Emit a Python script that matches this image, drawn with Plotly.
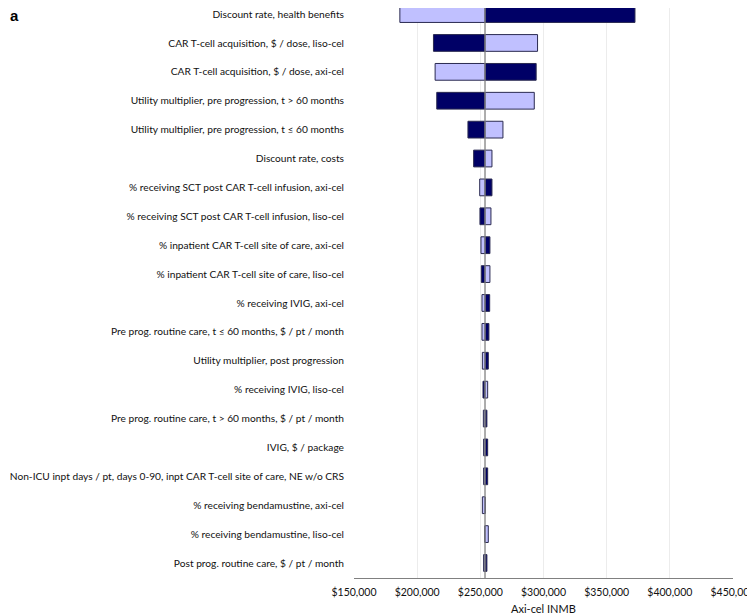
import plotly.graph_objects as go

# Tornado diagram: one-way sensitivity of axi-cel INMB
base_inmb = 253700

parameters = [
    "Discount rate, health benefits",
    "CAR T-cell acquisition, $ / dose, liso-cel",
    "CAR T-cell acquisition, $ / dose, axi-cel",
    "Utility multiplier, pre progression, t > 60 months",
    "Utility multiplier, pre progression, t ≤ 60 months",
    "Discount rate, costs",
    "% receiving SCT post CAR T-cell infusion, axi-cel",
    "% receiving SCT post CAR T-cell infusion, liso-cel",
    "% inpatient CAR T-cell site of care, axi-cel",
    "% inpatient CAR T-cell site of care, liso-cel",
    "% receiving IVIG, axi-cel",
    "Pre prog. routine care, t ≤ 60 months, $ / pt / month",
    "Utility multiplier, post progression",
    "% receiving IVIG, liso-cel",
    "Pre prog. routine care, t > 60 months, $ / pt / month",
    "IVIG, $ / package",
    "Non-ICU inpt days / pt, days 0-90, inpt CAR T-cell site of care, NE w/o CRS",
    "% receiving bendamustine, axi-cel",
    "% receiving bendamustine, liso-cel",
    "Post prog. routine care, $ / pt / month",
]

# INMB at each end of the parameter range (dark / light bars)
dark_inmb = [372400, 212900, 294200, 215500, 240200, 244700, 259200, 249700,
             257600, 250800, 257400, 256800, 256300, 252100, 255200, 255800,
             255800, 253700, 253700, 255200]
light_inmb = [186300, 295300, 214200, 292700, 267900, 259200, 249500, 258400,
              250500, 257600, 251300, 251300, 251600, 255800, 252400, 252600,
              252600, 251600, 256300, 252600]

x_ticks = [150000, 200000, 250000, 300000, 350000, 400000, 450000]

FONT = "Lato"
OUTLINE = dict(color="#2a2a50", width=1)

# page body has an 8px margin, so the figure is sized to the visible area
W, H = 747, 607
ML, MR, MT, MB = 346, 22, 0, 37

fig = go.Figure()

fig.add_trace(go.Bar(
    y=parameters,
    x=[v - base_inmb for v in dark_inmb],
    base=base_inmb,
    orientation="h",
    marker=dict(color="#000066", line=OUTLINE),
    width=0.58,
    name="dark",
))

fig.add_trace(go.Bar(
    y=parameters,
    x=[v - base_inmb for v in light_inmb],
    base=base_inmb,
    orientation="h",
    marker=dict(color="#c0c0ff", line=OUTLINE),
    width=0.58,
    name="light",
))

# base-case line
fig.add_shape(type="line", xref="x", yref="paper",
              x0=base_inmb, x1=base_inmb, y0=0, y1=1,
              line=dict(color="#808080", width=1.3), layer="above")

plot_w = W - ML - MR
plot_h = H - MT - MB

# panel letter
fig.add_annotation(text="<b>a</b>", xref="paper", yref="paper",
                   x=-ML / plot_w, y=1.0, xanchor="left", yanchor="top",
                   yshift=3,
                   showarrow=False, font=dict(family="Liberation Sans", size=15, color="#000"))

# x-axis title
fig.add_annotation(text="Axi-cel INMB", xref="paper", yref="paper",
                   x=0.5, y=-MB / plot_h, xanchor="center", yanchor="bottom",
                   yshift=-2, showarrow=False, font=dict(size=11))

fig.update_layout(
    width=W, height=H,
    margin=dict(l=ML, r=MR, t=MT, b=MB, autoexpand=False),
    barmode="overlay",
    showlegend=False,
    plot_bgcolor="white",
    paper_bgcolor="white",
    font=dict(family=FONT, size=10.2, color="#111"),
)

fig.update_xaxes(
    range=[150000, 450000],
    tickvals=x_ticks,
    tickformat="$,.0f",
    showgrid=True, gridcolor="#ececec", gridwidth=1,
    zeroline=False,
    showline=True, linecolor="#808080", linewidth=1,
    ticks="",
    ticklabelstandoff=4,
    ticklabeloverflow="allow",
    tickfont=dict(size=10.5),
    automargin=False,
)

fig.update_yaxes(
    range=[19.52, -0.21],
    showgrid=False,
    ticks="",
    ticklabelstandoff=9,
    tickfont=dict(size=10.2),
    automargin=False,
)

fig.write_html("out.html")
